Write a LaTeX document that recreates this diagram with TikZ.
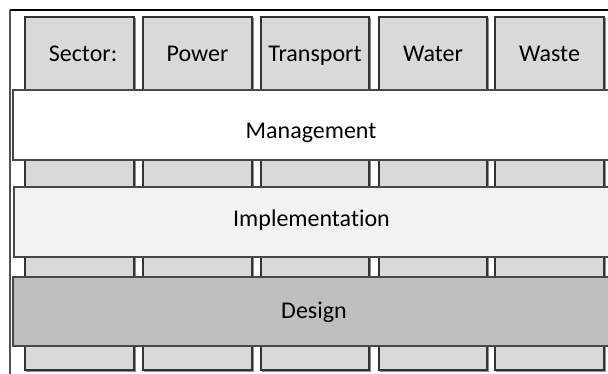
\documentclass[tikz,border=0pt]{standalone}
\usepackage{fontspec}
\setmainfont{Carlito}[Ligatures=NoCommon]
\begin{document}
\begin{tikzpicture}[x=0.75pt,y=-0.75pt,
  col/.style={draw=black!80, line width=0.8pt, fill=black!15},
  colshadow/.style={draw=black!45, line width=0.8pt},
  band/.style={draw=black!72, line width=0.8pt},
  lbl/.style={anchor=base, inner sep=0pt, font=\fontsize{18}{21}\selectfont, text=black}]
\useasboundingbox (0,0) rectangle (608,374);
\begin{scope}
\clip (0,0) rectangle (608,374);
% outer frame
\draw[black!68, line width=1.6pt] (10,10) -- (10,400);
\draw[black, line width=1.3pt] (9.5,10) -- (640,10);

% sector columns (drawn first, behind the bands)
\foreach \l/\r [count=\i] in {25/134, 143/252, 261/369, 379/487, 495/604} {
  \draw[colshadow] (\l+1.2,18.2) rectangle (\r+1.2,371.2);
  \draw[col] (\l,17) rectangle (\r,370);
  \coordinate (col\i) at ({(\l+\r)/2},17);
}

% horizontal bands
\draw[band, fill=white]    (13,90)  rectangle (640,160) coordinate (mgmtcorner);
\draw[band, fill=black!5]  (14,187) rectangle (640,257) coordinate (implcorner);
\draw[band, fill=black!25] (13,277) rectangle (640,346) coordinate (desgcorner);
\end{scope}

% column headings
\node[lbl] (sector)    at (83,62)    {Sector:};
\node[lbl] (power)     at (197.5,62) {Power};
\node[lbl] (transport) at (315,62)   {Transport};
\node[lbl] (water)     at (433,62)   {Water};
\node[lbl] (waste)     at (549.5,62) {Waste};

% band titles
\node[lbl] (management)     at (311,139) {Management};
\node[lbl] (implementation) at (311.5,227) {Implementation};
\node[lbl] (design)         at (314,319) {Design};
\end{tikzpicture}
\end{document}
